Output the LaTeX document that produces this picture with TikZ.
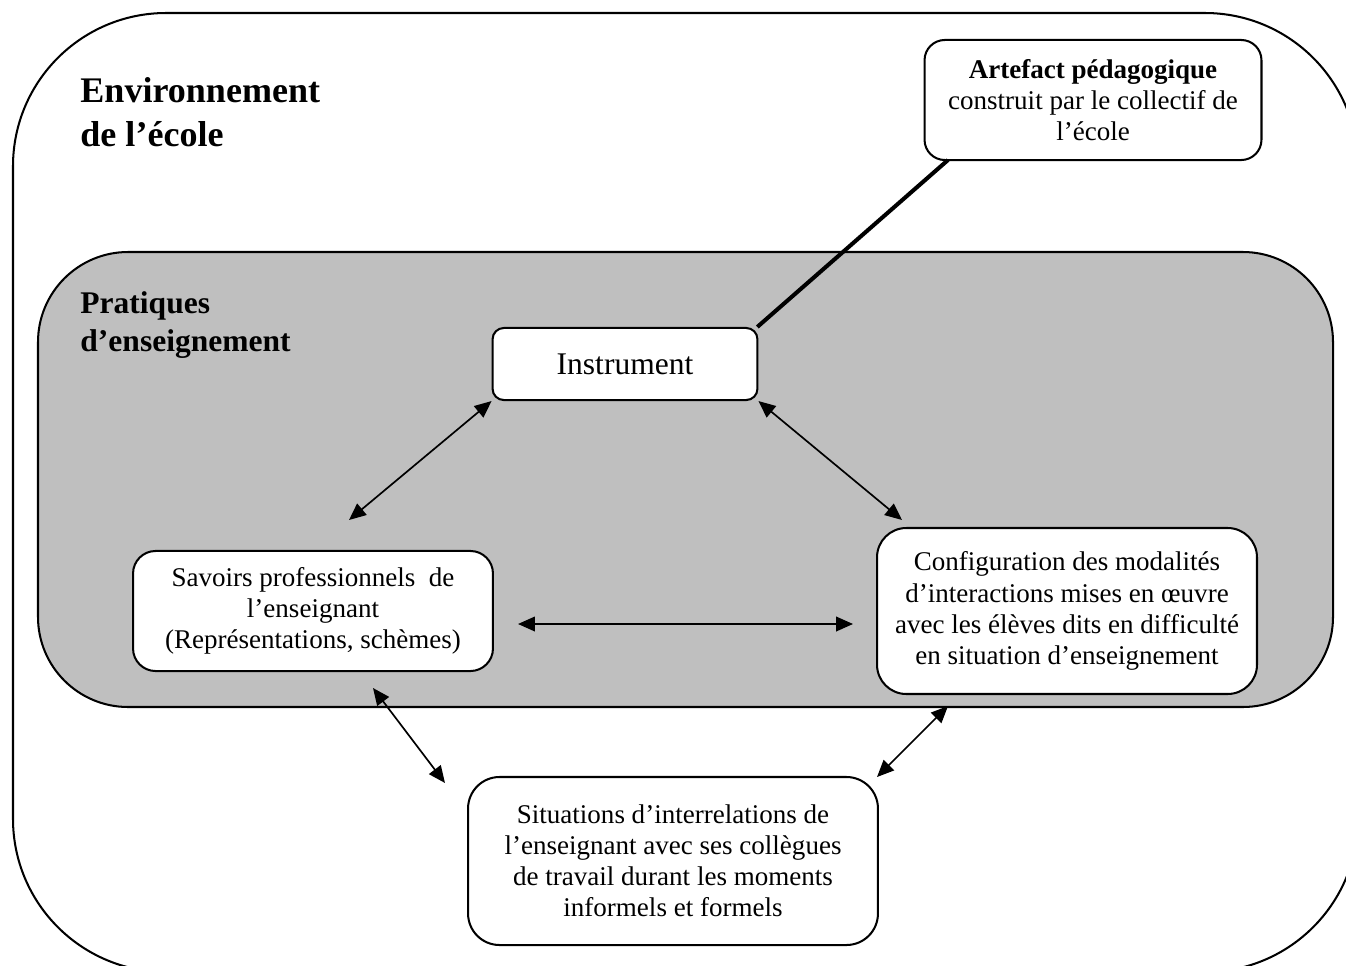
\documentclass[tikz,border=0pt]{standalone}
\usepackage{fontspec}
\setmainfont{Liberation Serif}
\usetikzlibrary{arrows.meta}

\begin{document}
\begin{tikzpicture}[x=0.444pt, y=-0.444pt,
    box/.style={draw, line width=0.9pt, fill=white, align=center, inner sep=0pt,
                font=\fontsize{12}{13.8}\selectfont},
    link/.style={<->, >={Triangle[length=7.5pt, width=6.5pt]}, line width=0.75pt}]
  \useasboundingbox (0,0) rectangle (1346,965);
  \clip (0,0) rectangle (1346,965);

  % cadres
  \draw[line width=0.9pt, rounded corners=68pt] (13,13) rectangle (1358,972);
  \draw[line width=0.9pt, fill=gray!50, rounded corners=40pt] (38,252) rectangle (1333,707);

  \node[anchor=north west, inner sep=0pt, align=left,
        font=\bfseries\fontsize{16}{19.5}\selectfont] (env) at (80,77)
        {Environnement\\de l’école};
  \node[anchor=north west, inner sep=0pt, align=left,
        font=\bfseries\fontsize{14}{16.9}\selectfont] (prat) at (80,291)
        {Pratiques\\d’enseignement};

  % boites
  \node[box, rounded corners=9pt, minimum width=149.6pt, minimum height=53.3pt] (artef) at (1093,100)
        {\textbf{Artefact pédagogique}\\construit par le collectif de\\l’école};
  \node[box, rounded corners=5pt, minimum width=117.6pt, minimum height=32pt,
        font=\fontsize{14}{16}\selectfont] (instr) at (625,364) {Instrument};
  \node[box, rounded corners=10pt, minimum width=159.8pt, minimum height=53.3pt] (savoirs) at (313,611)
        {Savoirs professionnels~ de\\l’enseignant\\(Représentations, schèmes)};
  \node[box, rounded corners=13pt, minimum width=168.7pt, minimum height=73.7pt] (config) at (1067,611)
        {Configuration des modalités\\d’interactions mises en œuvre\\avec les élèves dits en difficulté\\en situation d’enseignement};
  \node[box, rounded corners=14pt, minimum width=182pt, minimum height=74.6pt] (situ) at (673,861)
        {Situations d’interrelations de\\l’enseignant avec ses collègues\\de travail durant les moments\\informels et formels};

  % extremites libres
  \coordinate (artefbas) at (948,160);
  \coordinate (savhaut) at (349,520);
  \coordinate (confhaut) at (902,520);
  \coordinate (savdroit) at (518,624);
  \coordinate (confgauche) at (853,624);
  \coordinate (savbas) at (373,688);
  \coordinate (situhautg) at (445,783);
  \coordinate (confbas) at (948,706);
  \coordinate (situhautd) at (877,777);

  \draw[line width=1.8pt] ([xshift=-0.5pt]instr.north east) -- (artefbas);
  \path[link]
    (instr.south west) edge (savhaut)
    (instr.south east) edge (confhaut)
    (savdroit) edge (confgauche)
    (savbas) edge (situhautg)
    (confbas) edge (situhautd);
\end{tikzpicture}
\end{document}
